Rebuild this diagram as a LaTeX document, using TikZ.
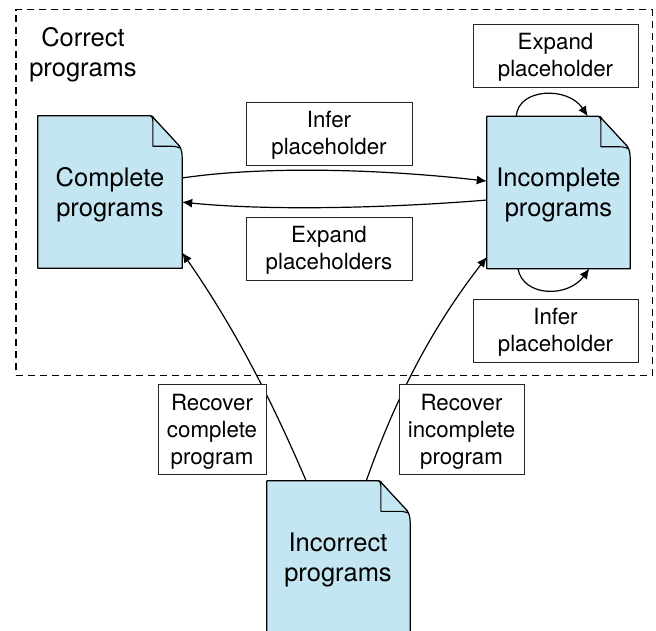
\documentclass[tikz,border=0pt]{standalone}
\usepackage{fontspec}
\setmainfont{TeX Gyre Heros}
\usetikzlibrary{arrows.meta}
\definecolor{docblue}{HTML}{C3E6F2}
\tikzset{
  x=1pt,y=-1pt,
  docbox/.style={minimum width=#1,minimum height=152pt,inner sep=0pt},
  doctext/.style={align=center,inner sep=0pt,font=\fontsize{25.5}{30}\selectfont},
  lab/.style={draw=black!85,fill=white,line width=0.7pt,inner sep=0pt},
  labtext/.style={align=center,inner sep=0pt,yshift=-1.5pt,font=\fontsize{22.3}{27}\selectfont},
  labtextthree/.style={align=center,inner sep=0pt,yshift=-2.5pt,font=\fontsize{22.3}{27}\selectfont},
  conn/.style={line width=1.2pt,-{Latex[length=10pt,width=9pt]}},
  outline/.style={draw=black,line width=1.2pt,fill=docblue,line join=round},
  foldline/.style={draw=black,line width=1.1pt,fill=docblue,line join=round}
}
\newcommand{\pagedoc}[1]{%
  \path[outline] (#1.north west) -- ([xshift=-32pt]#1.north east)
    .. controls +(3pt,0pt) and +(-2pt,2pt) .. ([xshift=-28pt,yshift=-3pt]#1.north east)
    -- ([xshift=-3pt,yshift=-30pt]#1.north east)
    .. controls +(2pt,-2.5pt) and +(0pt,5pt) .. ([yshift=-42pt]#1.north east)
    -- (#1.south east) -- (#1.south west) -- cycle;
  \path[foldline] ([xshift=-32pt]#1.north east)
    .. controls +(2.5pt,-0.5pt) and +(0pt,4pt) .. ([xshift=-29.3pt,yshift=-8pt]#1.north east)
    -- ([xshift=-29.3pt,yshift=-30.5pt]#1.north east)
    -- ([xshift=-10pt,yshift=-30.5pt]#1.north east)
    .. controls +(4pt,0pt) and +(-2pt,0.5pt) .. ([xshift=-3pt,yshift=-32pt]#1.north east)
    -- ([xshift=-3pt,yshift=-30pt]#1.north east)
    -- ([xshift=-28pt,yshift=-3pt]#1.north east)
    .. controls +(-2pt,2pt) and +(3pt,0pt) .. ([xshift=-32pt]#1.north east);
}
\begin{document}
\begin{tikzpicture}
\useasboundingbox (0,0) rectangle (656,631);
\clip (0,0) rectangle (656,631);
\node[draw=black,line width=1.1pt,dash pattern=on 7pt off 5pt,minimum width=636.5pt,minimum height=365.5pt,inner sep=0pt] (frame) at (334.2,192.4) {};
\node[doctext] (title) at (83,55) {Correct\\programs};

\node[docbox=144pt] (comp) at (110,192) {};
\node[docbox=143pt] (inc) at (558.5,192.5) {};
\node[docbox=143pt] (bad) at (338.5,557) {};
\pagedoc{comp}\pagedoc{inc}\pagedoc{bad}
\node[doctext] (comptxt) at (110,195) {Complete\\programs};
\node[doctext] (inctxt) at (558.5,195) {Incomplete\\programs};
\node[doctext] (badtxt) at (338,560) {Incorrect\\programs};

\draw[conn] (comp.11) .. controls (270,165) and (390,170) .. (inc.171);
\draw[conn] (inc.186) .. controls (390,208) and (270,211) .. (comp.-8.6);
\draw[conn] (bad.113) .. controls (280,420) and (243,340) .. (comp.-40.7);
\draw[conn] (bad.70.5) .. controls (395,400) and (430,330) .. (inc.222.5);
\draw[conn] (inc.119.4) .. controls (518,88) and (568,86) .. (inc.69.3);
\draw[conn] (inc.242.4) .. controls (523,297) and (568,298) .. (inc.292.6);

\node[lab,minimum width=165pt,minimum height=63pt,label={[labtext]center:{Expand\\placeholder}}] (l1) at (555.5,55.5) {};
\node[lab,minimum width=166pt,minimum height=63pt,label={[labtext]center:{Infer\\placeholder}}] (l2) at (329,133.5) {};
\node[lab,minimum width=166pt,minimum height=63pt,label={[labtext]center:{Expand\\placeholders}}] (l3) at (329,248.5) {};
\node[lab,minimum width=165pt,minimum height=63pt,label={[labtext]center:{Infer\\placeholder}}] (l4) at (555.5,330.5) {};
\node[lab,minimum width=108pt,minimum height=90pt,label={[labtextthree]center:{Recover\\complete\\program}}] (l5) at (212,429) {};
\node[lab,minimum width=125pt,minimum height=90pt,label={[labtextthree]center:{Recover\\incomplete\\program}}] (l6) at (461.5,429.5) {};
\end{tikzpicture}
\end{document}
